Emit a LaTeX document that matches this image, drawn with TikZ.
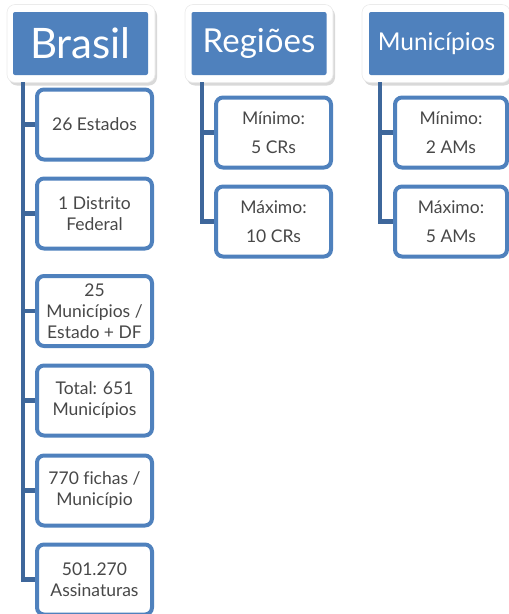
\documentclass[tikz,border=0pt]{standalone}
\usepackage{fontspec}
\setmainfont{Lato}[Ligatures={NoCommon}]
\usetikzlibrary{shadows}
\definecolor{boxblue}{RGB}{79,129,189}
\definecolor{connblue}{RGB}{62,103,155}
\definecolor{txtgray}{RGB}{72,72,72}
\tikzset{
  headframe/.style={fill=white, draw=black!8, line width=0.6pt, rounded corners=8pt, minimum width=148pt, minimum height=78pt,
    inner sep=0pt, drop shadow={shadow xshift=2pt, shadow yshift=-3pt, opacity=0.3}},
  headbox/.style={fill=boxblue, rounded corners=2pt, minimum width=135pt, minimum height=63pt,
    inner sep=0pt, text=white},
  childbox/.style={draw=boxblue, line width=4pt, fill=white, rounded corners=7pt,
    minimum width=115pt, minimum height=70pt, inner sep=2pt, align=center, text=txtgray,
    font=\fontsize{17.5}{21}\selectfont},
  conn/.style={draw=connblue, line width=4.5pt}
}
\begin{document}
\begin{tikzpicture}[x=1pt,y=-1pt]
\useasboundingbox (0,0) rectangle (509,614);
% headers
\node[headframe] (bF) at (81,43.5) {};
\node[headframe] (rF) at (259,43.5) {};
\node[headframe] (mF) at (436,43.5) {};
\node[headbox, font=\fontsize{42}{44}\selectfont] (b) at (80.5,43.5) {Brasil};
\node[headbox, font=\fontsize{33}{36}\selectfont] (r) at (259,43.5) {Regiões};
\node[headbox, font=\fontsize{24.5}{28}\selectfont] (m) at (436.5,43.5) {Municípios};
% anchors of the trunks
\coordinate (bs) at (23,82);
\coordinate (rs) at (202,82);
\coordinate (ms) at (380,82);
% connectors
\path[conn] (bs) |- (94.5,124.5) coordinate (c1w);
\path[conn] (bs) |- (94.5,213.5) coordinate (c2w);
\path[conn] (bs) |- (94.5,311) coordinate (c3w);
\path[conn] (bs) |- (94.5,400.5) coordinate (c4w);
\path[conn] (bs) |- (94.5,490.5) coordinate (c5w);
\path[conn] (bs) |- (94.5,579.5) coordinate (c6w);
\path[conn] (rs) |- (273.5,132.5) coordinate (r1w);
\path[conn] (rs) |- (273.5,221.5) coordinate (r2w);
\path[conn] (ms) |- (451,132.5) coordinate (m1w);
\path[conn] (ms) |- (451,221.5) coordinate (m2w);
% Brasil children
\node[childbox] (c1) at (94.5,124.5) {26 Estados};
\node[childbox] (c2) at (94.5,213.5) {1 Distrito\\Federal};
\node[childbox] (c3) at (94.5,311) {25\\Municípios /\\Estado + DF};
\node[childbox] (c4) at (94.5,400.5) {Total: 651\\Municípios};
\node[childbox] (c5) at (94.5,490.5) {770 fichas /\\Município};
\node[childbox] (c6) at (94.5,579.5) {501.270\\Assinaturas};
% Regiões children
\node[childbox] (r1) at (273.5,132.5) {Mínimo:\\[8pt] 5 CRs};
\node[childbox] (r2) at (273.5,221.5) {Máximo:\\[8pt] 10 CRs};
% Municípios children
\node[childbox, minimum width=112pt] (m1) at (451,132.5) {Mínimo:\\[8pt] 2 AMs};
\node[childbox, minimum width=112pt] (m2) at (451,221.5) {Máximo:\\[8pt] 5 AMs};
\end{tikzpicture}
\end{document}
